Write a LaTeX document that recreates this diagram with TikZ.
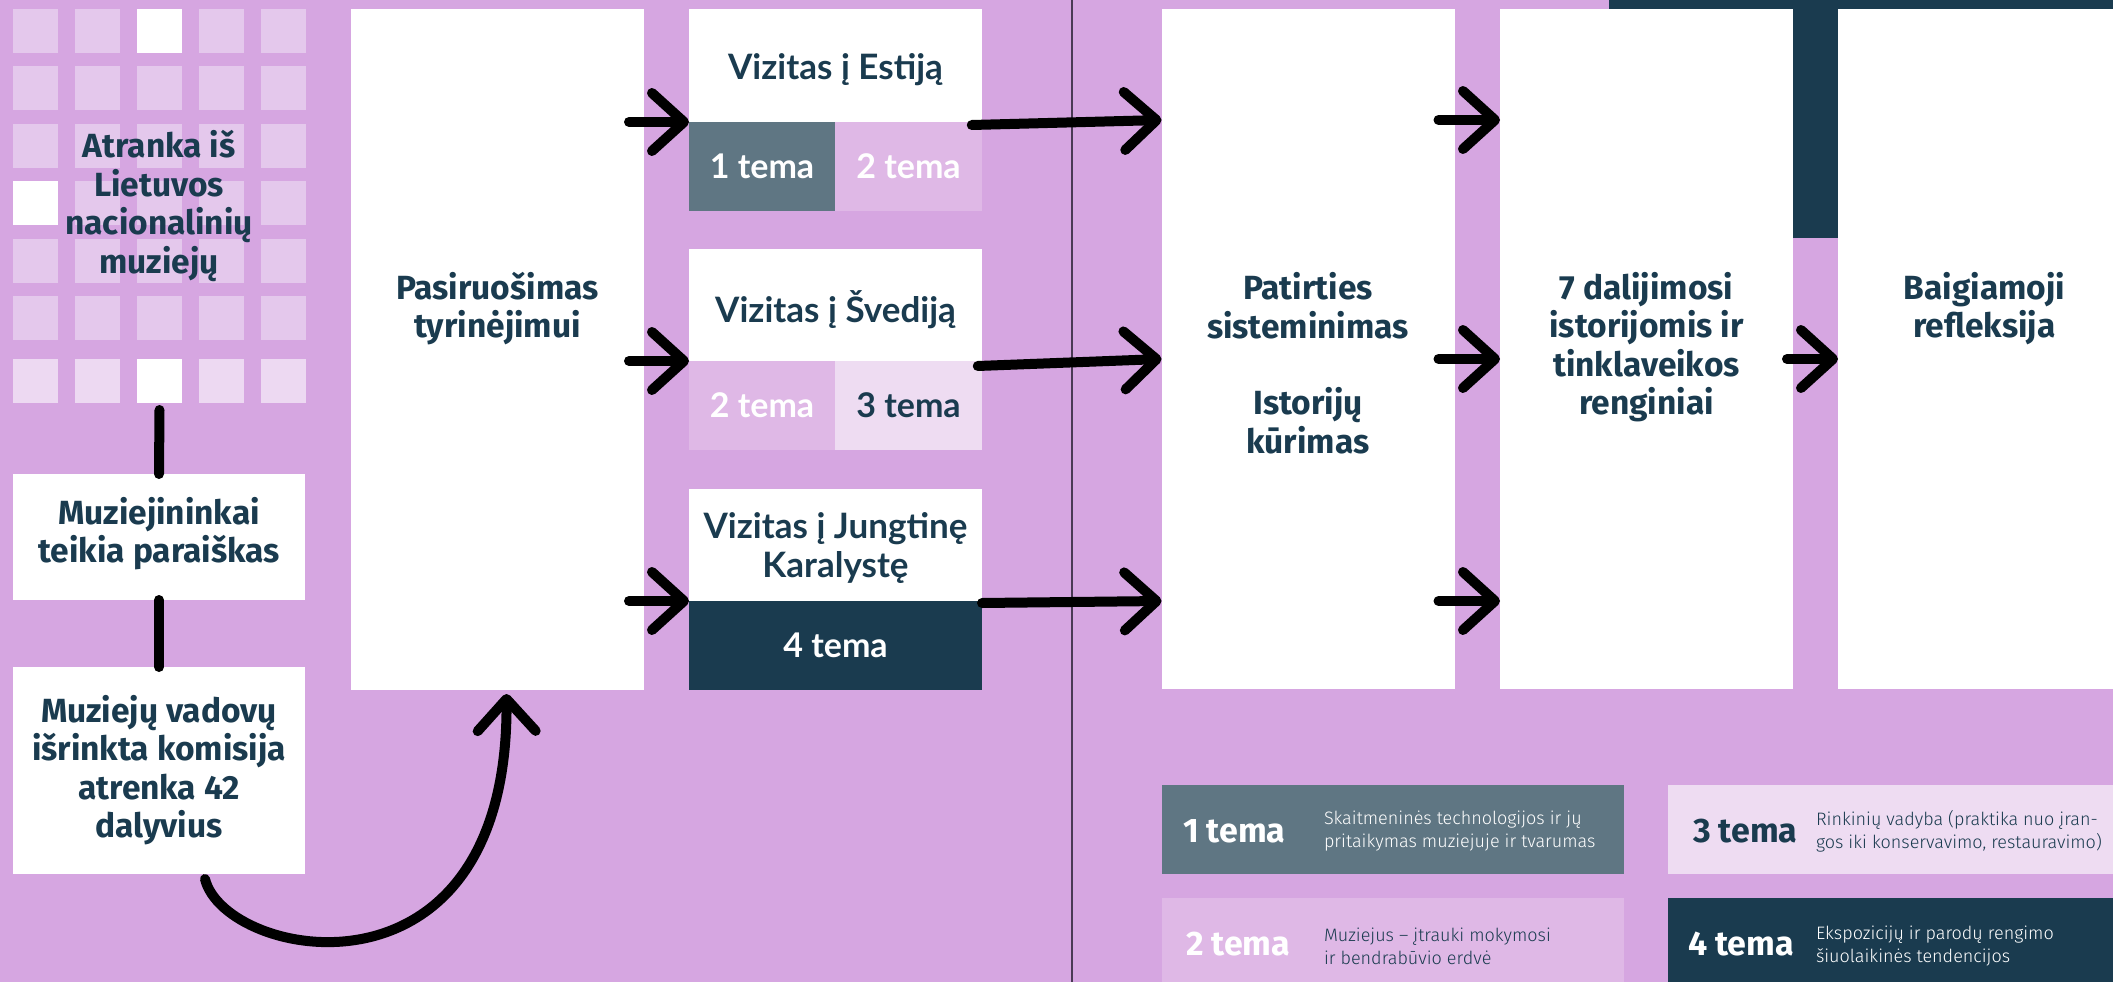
\documentclass[tikz,border=0pt]{standalone}
\usepackage{fontspec}
\setmainfont{Fira Sans}
\newfontfamily\visitfont{Lato}
\IfFontExistsTF{Fira Sans Light}{\newfontfamily\lightfont{Fira Sans Light}}{\newfontfamily\lightfont{Fira Sans}}
\usetikzlibrary{arrows.meta,positioning}

\definecolor{lavender}{RGB}{214,166,225}
\definecolor{navy}{RGB}{26,59,79}
\definecolor{slate}{RGB}{95,118,131}
\definecolor{lilac}{RGB}{223,184,230}
\definecolor{pale}{RGB}{238,220,242}
\definecolor{tile}{RGB}{228,200,236}
\definecolor{tilelt}{RGB}{237,217,242}
\definecolor{rulecol}{RGB}{74,58,85}

\begin{document}
\begin{tikzpicture}[x=1pt, y=-1pt,
    every node/.style={inner sep=0pt, outer sep=0pt},
    panel/.style={rectangle, fill=white, minimum width=293pt},
    tilebox/.style={rectangle, minimum width=45pt, minimum height=44pt},
    head/.style={align=center, text=navy, font=\fontsize{33.5}{38.5}\selectfont\bfseries},
    visit/.style={align=center, text=navy, font=\visitfont\fontsize{35}{38.5}\selectfont\bfseries},
    tema/.style={rectangle, minimum width=146.5pt, minimum height=89pt, font=\visitfont\fontsize{34}{38}\selectfont\bfseries},
    legbox/.style={rectangle, minimum width=462pt, minimum height=89pt},
    legtag/.style={anchor=west, font=\fontsize{34}{38}\selectfont\bfseries},
    legtext/.style={anchor=west, align=left, font=\lightfont\fontsize{18}{23}\selectfont},
    arr/.style={line width=10pt, line cap=round, -{Straight Barb[length=32pt, width=58pt, line cap=round, line join=round]}},
    link/.style={line width=10pt, line cap=round}]

  % background and frame
  \useasboundingbox (0,0) rectangle (2113,982);
  \clip (0,0) rectangle (2113,982);
  \fill[lavender] (0,0) rectangle (2113,982);
  \fill[navy] (1609,0) rectangle (2113,9);
  \fill[navy] (1793,0) rectangle (1838,238);
  \draw[rulecol, line width=2pt] (1072,0) -- (1072,982);

  % tiles
  \foreach \r/\ty/\tc in {1/31/tile,2/88/tile,3/146/tile,4/203/tile,5/261/tile,6/318/tile,7/381/tilelt}
    \foreach \c in {1,...,5}
      \node[tilebox, fill=\tc] (t-\r-\c) at ({35.5+62*(\c-1)},\ty) {};
  \foreach \w in {t-1-3,t-4-1,t-7-3}
    \fill[white] (\w.north west) rectangle (\w.south east);
  \node[head] (atr) at (159,206) {Atranka iš\\Lietuvos\\nacionalinių\\muziejų};

  % left column
  \node[panel, minimum width=292pt, minimum height=126pt] (muz) at (159,537) {};
  \node[head] (muz-t) at (159,533.5) {Muziejininkai\\teikia paraiškas};
  \node[panel, minimum width=292pt, minimum height=207pt] (vad) at (159,770.5) {};
  \node[head] (vad-t) at (159,770) {Muziejų vadovų\\išrinkta komisija\\atrenka 42\\dalyvius};

  \node[panel, minimum height=681pt] (pas) at (497.5,349.5) {};
  \node[head] (pas-t) at (497.5,308.5) {Pasiruošimas\\tyrinėjimui};

  % visits
  \node[panel, minimum height=113pt] (est) at (835.5,65.5) {};
  \node[visit] (est-t) at (835.5,70) {Vizitas į Estiją};
  \node[tema, fill=slate, text=white] (est1) at (762,166.5) {1 tema};
  \node[tema, fill=lilac, text=white] (est2) at (908.5,166.5) {2 tema};

  \node[panel, minimum height=112pt] (sve) at (835.5,305) {};
  \node[visit] (sve-t) at (835.5,310) {Vizitas į Švediją};
  \node[tema, fill=lilac, text=white] (sve2) at (762,405.5) {2 tema};
  \node[tema, fill=pale, text=navy] (sve3) at (908.5,405.5) {3 tema};

  \node[panel, minimum height=112pt] (jk) at (835.5,545) {};
  \node[visit] (jk-t) at (835.5,548) {Vizitas į Jungtinę\\Karalystę};
  \node[tema, fill=navy, text=white, minimum width=293pt] (jk4) at (835.5,645.5) {4 tema};

  % right side
  \node[panel, minimum height=680pt] (pat) at (1308,349) {};
  \node[head] (pat-t) at (1308,363) {Patirties\\sisteminimas\\[38pt]Istorijų\\kūrimas};
  \node[panel, minimum height=680pt] (dal) at (1646.5,349) {};
  \node[head] (dal-t) at (1646.5,347) {7 dalijimosi\\istorijomis ir\\tinklaveikos\\renginiai};
  \node[panel, minimum height=680pt] (baig) at (1984.5,349) {};
  \node[head] (baig-t) at (1984.5,308.5) {Baigiamoji\\refleksija};

  % legend
  \node[legbox, fill=slate] (leg1) at (1393,829.5) {};
  \node[legtag, text=white] (leg1-n) at (1183,831) {1 tema};
  \node[legtext, text=white] (leg1-d) at (1324,831) {Skaitmeninės technologijos ir jų\\pritaikymas muziejuje ir tvarumas};
  \node[legbox, fill=pale] (leg3) at (1899,829.5) {};
  \node[legtag, text=navy] (leg3-n) at (1693,831) {3 tema};
  \node[legtext, text=navy] (leg3-d) at (1816,831) {Rinkinių vadyba (praktika nuo įran-\\gos iki konservavimo, restauravimo)};
  \node[legbox, fill=lilac] (leg2) at (1393,942.5) {};
  \node[legtag, text=white] (leg2-n) at (1186,944) {2 tema};
  \node[legtext, text=navy] (leg2-d) at (1324,946) {Muziejus – įtrauki mokymosi\\ir bendrabūvio erdvė};
  \node[legbox, fill=navy] (leg4) at (1899,942.5) {};
  \node[legtag, text=white] (leg4-n) at (1688,944) {4 tema};
  \node[legtext, text=white] (leg4-d) at (1816,946) {Ekspozicijų ir parodų rengimo\\šiuolaikinės tendencijos};

  % connectors
  \draw[link] ([yshift=-7pt]t-7-3.south) -- (muz.north);
  \draw[link] (muz.south) -- (vad.north);
  \draw[arr] ([xshift=46pt,yshift=-5pt]vad.south) .. controls (225,960) and (508,1015) .. ([xshift=9pt,yshift=-4pt]pas.south);
  \draw[arr] ([xshift=-15pt]pas.east |- est.south) -- (est.south west);
  \draw[arr] ([xshift=-15pt]pas.east |- sve.south) -- (sve.south west);
  \draw[arr] ([xshift=-15pt]pas.east |- jk.south) -- (jk.south west);
  \draw[arr] ([xshift=-10pt,yshift=-3pt]est2.north east) -- ([yshift=2pt]pat.west |- est.south);
  \draw[arr] ([xshift=-4pt,yshift=-5pt]sve3.north east) -- ([yshift=2pt]pat.west |- sve.south);
  \draw[arr] ([yshift=-2pt]jk4.north east) -- (pat.west |- jk.south);
  \draw[arr] ([xshift=-16pt,yshift=2pt]pat.east |- est.south) -- ([yshift=2pt]dal.west |- est.south);
  \draw[arr] ([xshift=-16pt,yshift=2pt]pat.east |- sve.south) -- ([yshift=2pt]dal.west |- sve.south);
  \draw[arr] ([xshift=-16pt]pat.east |- jk.south) -- (dal.west |- jk.south);
  \draw[arr] ([xshift=-6pt,yshift=2pt]dal.east |- sve.south) -- ([yshift=2pt]baig.west |- sve.south);
\end{tikzpicture}
\end{document}
